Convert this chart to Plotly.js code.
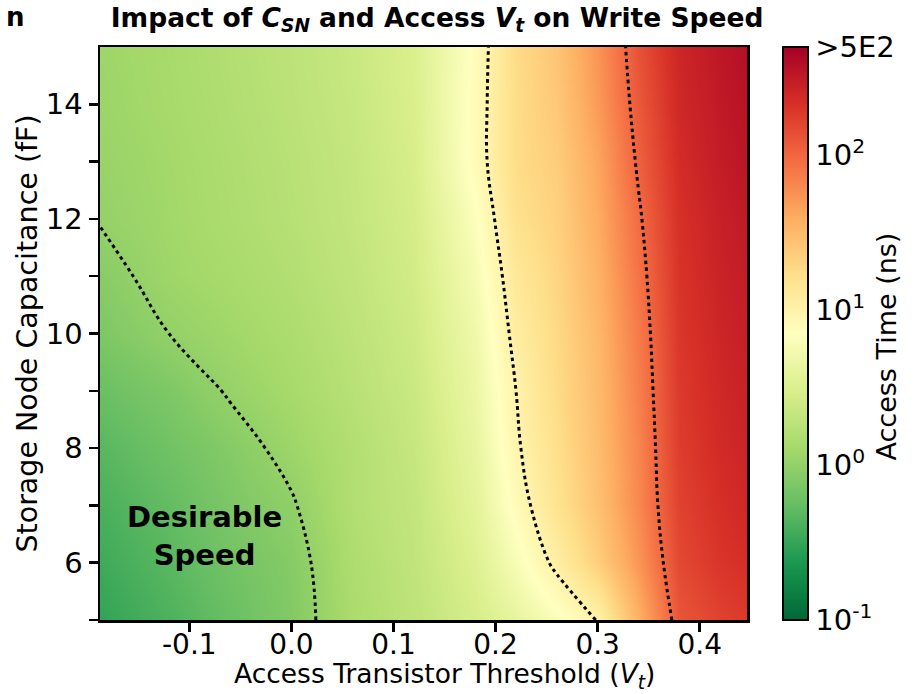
<!DOCTYPE html>
<html>
<head>
<meta charset="utf-8">
<script src="https://cdn.plot.ly/plotly-3.0.1.min.js"></script>
<style>html,body{margin:0;padding:0;background:#fff;}#chart{width:923px;height:694px;}</style>
</head>
<body>
<div id="chart"></div>
<script>
// Access transistor threshold Vt (V)
const vt = [-0.19, -0.12, -0.06, 0.0, 0.06, 0.12, 0.18, 0.22, 0.26, 0.30, 0.34, 0.38, 0.42, 0.45];
// Storage node capacitance C_SN (fF)
const csn = [5, 6, 7, 8, 9, 10, 11, 12, 13, 14, 15];
// log10 of access time (ns), one row per C_SN value, one column per Vt value
const logAccessTime = [
  [-0.52, -0.38, -0.24, -0.10, 0.15, 0.28, 0.46, 0.62, 0.80, 1.01, 1.55, 2.10, 2.22, 2.28],
  [-0.46, -0.32, -0.19, -0.08, 0.17, 0.30, 0.52, 0.78, 1.05, 1.35, 1.72, 2.18, 2.30, 2.35],
  [-0.40, -0.27, -0.13, -0.02, 0.20, 0.32, 0.58, 0.90, 1.18, 1.45, 1.80, 2.22, 2.34, 2.40],
  [-0.33, -0.20, -0.08, 0.06, 0.20, 0.34, 0.62, 0.97, 1.22, 1.48, 1.82, 2.25, 2.37, 2.43],
  [-0.24, -0.12, 0.02, 0.12, 0.24, 0.37, 0.66, 1.00, 1.25, 1.50, 1.85, 2.27, 2.39, 2.45],
  [-0.13, 0.00, 0.08, 0.16, 0.27, 0.40, 0.70, 1.06, 1.27, 1.52, 1.88, 2.29, 2.41, 2.47],
  [-0.07, 0.07, 0.13, 0.20, 0.30, 0.43, 0.76, 1.12, 1.30, 1.56, 1.92, 2.31, 2.43, 2.49],
  [0.005, 0.09, 0.16, 0.23, 0.32, 0.45, 0.82, 1.20, 1.33, 1.60, 1.97, 2.33, 2.45, 2.51],
  [0.03, 0.10, 0.17, 0.24, 0.33, 0.47, 0.90, 1.24, 1.36, 1.64, 2.03, 2.36, 2.48, 2.54],
  [0.05, 0.12, 0.19, 0.26, 0.35, 0.49, 0.90, 1.24, 1.40, 1.70, 2.08, 2.39, 2.50, 2.57],
  [0.06, 0.13, 0.20, 0.27, 0.36, 0.50, 0.88, 1.25, 1.42, 1.74, 2.12, 2.41, 2.52, 2.60]
];
// contour levels: log10 of 1 ns, 10 ns, 100 ns
const contourLevels = [0, 1, 2];
// colour bar ticks (log10 ns) and labels
const cbTickVals = [-1, 0, 1, 2, 2.699];
const cbTickText = ['10<sup>-1</sup>', '10<sup>0</sup>', '10<sup>1</sup>', '10<sup>2</sup>', '>5E2'];
const xTickVals = [-0.1, 0.0, 0.1, 0.2, 0.3, 0.4];
const xTickText = ['-0.1', '0.0', '0.1', '0.2', '0.3', '0.4'];
const yTickVals = [6, 8, 10, 12, 14];
const yMinorVals = [5, 7, 9, 11, 13];

const FONT = 'DejaVu Sans, Verdana, sans-serif';
const rdylgnR = [
  [0.0, '#006837'], [0.1, '#1a9850'], [0.2, '#66bd63'], [0.3, '#a6d96a'],
  [0.4, '#d9ef8b'], [0.5, '#ffffbf'], [0.6, '#fee08b'], [0.7, '#fdae61'],
  [0.8, '#f46d43'], [0.9, '#d73027'], [1.0, '#a50026']
];

const heat = {
  type: 'heatmap',
  x: vt, y: csn, z: logAccessTime,
  zsmooth: 'best',
  colorscale: rdylgnR,
  zmin: -1, zmax: 2.699,
  hoverinfo: 'skip',
  colorbar: {
    x: 1.0552, xanchor: 'left', xref: 'paper',
    y: 0.5, yanchor: 'middle', len: 1, lenmode: 'fraction',
    thickness: 25, xpad: 0, ypad: 0,
    outlinewidth: 2, outlinecolor: '#000',
    tickmode: 'array', tickvals: cbTickVals, ticktext: cbTickText,
    ticks: '', ticklabelpad: 0,
    tickfont: {family: FONT, size: 29, color: '#000'}
  }
};

const cont = {
  type: 'contour',
  x: vt, y: csn, z: logAccessTime,
  autocontour: false,
  contours: {coloring: 'none', start: contourLevels[0], end: contourLevels[contourLevels.length - 1], size: 1, showlabels: false},
  line: {color: '#000', width: 3, dash: '3.5px,3.5px', smoothing: 1.2},
  showscale: false,
  hoverinfo: 'skip'
};

const layout = {
  width: 923, height: 694,
  margin: {l: 100, r: 176, t: 47, b: 74},
  paper_bgcolor: '#fff', plot_bgcolor: '#fff',
  font: {family: FONT, color: '#000'},
  showlegend: false,
  title: {
    text: '<b>Impact of <i>C<sub>SN</sub></i> and Access <i>V<sub>t</sub></i> on Write Speed</b>',
    font: {family: FONT, size: 26.5, color: '#000'},
    x: 0.4735, xref: 'container', xanchor: 'center',
    y: 0.975, yref: 'container', yanchor: 'middle'
  },
  xaxis: {
    range: [-0.1875, 0.4463],
    tickmode: 'array', tickvals: xTickVals, ticktext: xTickText,
    ticks: 'outside', ticklen: 9, tickwidth: 2.5, tickcolor: '#000',
    ticklabelstandoff: -11,
    showline: true, linewidth: 2.5, linecolor: '#000', mirror: true,
    showgrid: false, zeroline: false,
    tickfont: {family: FONT, size: 28, color: '#000'}
  },
  yaxis: {
    range: [5, 15],
    tickmode: 'array', tickvals: yTickVals,
    ticks: 'outside', ticklen: 9, tickwidth: 2.5, tickcolor: '#000',
    minor: {tickmode: 'array', tickvals: yMinorVals, ticks: 'outside', ticklen: 9, tickwidth: 2.5, tickcolor: '#000', showgrid: false},
    showline: true, linewidth: 2.5, linecolor: '#000', mirror: true,
    showgrid: false, zeroline: false,
    tickfont: {family: FONT, size: 29, color: '#000'},
    title: {text: 'Storage Node Capacitance (fF)', font: {family: FONT, size: 28.5, color: '#000'}, standoff: 0}
  },
  annotations: [
    {text: 'Access Transistor Threshold (<i>V<sub>t</sub></i>)', x: (445 - 100) / 647.3, y: -0.097, xref: 'paper', yref: 'paper',
     xanchor: 'center', yanchor: 'middle', showarrow: false, font: {family: FONT, size: 26.5, color: '#000'}},
    {text: '<b>Desirable<br>Speed</b>', x: -0.0856, y: 6.47, xref: 'x', yref: 'y',
     showarrow: false, align: 'center', font: {family: FONT, size: 29, color: '#000'}},
    {text: 'Access Time (ns)', textangle: -90, x: 1.2155, y: 0.478, xref: 'paper', yref: 'paper',
     xanchor: 'center', yanchor: 'middle', showarrow: false, font: {family: FONT, size: 27, color: '#000'}},
    {text: '<b>n</b>', x: -0.148, y: 1.052, xref: 'paper', yref: 'paper', xanchor: 'left', yanchor: 'middle',
     showarrow: false, font: {family: FONT, size: 26, color: '#000'}}
  ]
};

Plotly.newPlot('chart', [heat, cont], layout, {staticPlot: true, displayModeBar: false});
</script>
</body>
</html>
